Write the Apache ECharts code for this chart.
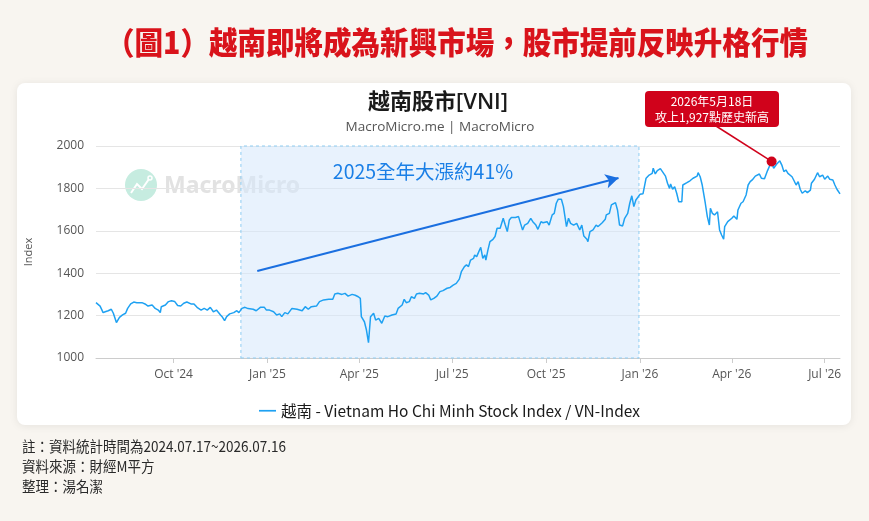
<!DOCTYPE html>
<html>
<head>
<meta charset="utf-8">
<script src="https://cdn.jsdelivr.net/npm/echarts@6/dist/echarts.min.js"></script>
<style>
html,body{margin:0;padding:0;background:#f8f5f0;}
#c{width:869px;height:521px;}
</style>
</head>
<body>
<div id="c"></div>
<script>
const dates = [
'2024-07-17','2024-07-21','2024-07-24','2024-07-26','2024-07-29','2024-08-01','2024-08-03','2024-08-06','2024-08-09','2024-08-12',
'2024-08-15','2024-08-17','2024-08-20','2024-08-23','2024-08-26','2024-08-31','2024-09-03','2024-09-06','2024-09-10','2024-09-13',
'2024-09-16','2024-09-18','2024-09-19','2024-09-23','2024-09-26','2024-09-29','2024-10-02','2024-10-05','2024-10-08','2024-10-11',
'2024-10-14','2024-10-18','2024-10-21','2024-10-24','2024-10-28','2024-10-31','2024-11-03','2024-11-06','2024-11-09','2024-11-12',
'2024-11-16','2024-11-18','2024-11-20','2024-11-22','2024-11-25','2024-11-29','2024-12-02','2024-12-04','2024-12-07','2024-12-10',
'2024-12-13','2024-12-18','2024-12-21','2024-12-25','2024-12-29','2024-12-31',
'2025-01-03','2025-01-07','2025-01-10','2025-01-13','2025-01-15','2025-01-18','2025-01-21','2025-01-25','2025-01-30','2025-02-04',
'2025-02-07','2025-02-10','2025-02-13','2025-02-18','2025-02-21','2025-02-25','2025-03-02','2025-03-06','2025-03-08','2025-03-11',
'2025-03-15','2025-03-18','2025-03-21','2025-03-25','2025-03-28','2025-03-31','2025-04-02','2025-04-03','2025-04-06','2025-04-08',
'2025-04-10','2025-04-12','2025-04-15','2025-04-17','2025-04-20','2025-04-23','2025-04-26','2025-04-29','2025-05-03','2025-05-07',
'2025-05-09','2025-05-13','2025-05-15','2025-05-17','2025-05-20','2025-05-22','2025-05-25','2025-05-27','2025-05-30','2025-06-03',
'2025-06-05','2025-06-08','2025-06-10','2025-06-13','2025-06-16','2025-06-19','2025-06-22','2025-06-26','2025-06-29','2025-07-02',
'2025-07-05','2025-07-08','2025-07-10','2025-07-13','2025-07-15','2025-07-17','2025-07-19','2025-07-22','2025-07-23','2025-07-25',
'2025-07-28','2025-07-29','2025-07-31','2025-08-02','2025-08-03','2025-08-05','2025-08-07','2025-08-10','2025-08-12','2025-08-14',
'2025-08-17','2025-08-20','2025-08-22','2025-08-24','2025-08-26','2025-08-28','2025-09-01','2025-09-04','2025-09-06','2025-09-08',
'2025-09-10','2025-09-13','2025-09-16','2025-09-18','2025-09-21','2025-09-23','2025-09-26','2025-09-28','2025-10-02','2025-10-04',
'2025-10-07','2025-10-09','2025-10-11','2025-10-13','2025-10-16','2025-10-18','2025-10-21','2025-10-23','2025-10-25','2025-10-28',
'2025-10-31','2025-11-03','2025-11-05','2025-11-07','2025-11-10','2025-11-11','2025-11-13','2025-11-16','2025-11-19','2025-11-21',
'2025-11-25','2025-11-28','2025-11-29','2025-12-02','2025-12-04','2025-12-08','2025-12-10','2025-12-12','2025-12-15','2025-12-17',
'2025-12-20','2025-12-22','2025-12-24','2025-12-26','2025-12-28',
'2026-01-01','2026-01-04','2026-01-07','2026-01-10','2026-01-13','2026-01-14','2026-01-16','2026-01-18','2026-01-21','2026-01-23',
'2026-01-26','2026-01-28','2026-01-30','2026-01-31','2026-02-02','2026-02-04','2026-02-06','2026-02-08','2026-02-11','2026-02-12',
'2026-02-16','2026-02-19','2026-02-22','2026-02-26','2026-02-27','2026-03-01','2026-03-03','2026-03-06','2026-03-08','2026-03-10',
'2026-03-11','2026-03-13','2026-03-15','2026-03-18','2026-03-20','2026-03-22','2026-03-24','2026-03-25','2026-03-28','2026-03-29',
'2026-04-01','2026-04-03','2026-04-06','2026-04-07','2026-04-10','2026-04-12','2026-04-15','2026-04-17','2026-04-19','2026-04-21',
'2026-04-24','2026-04-25','2026-04-28','2026-04-30','2026-05-03','2026-05-06','2026-05-08','2026-05-10','2026-05-12','2026-05-15',
'2026-05-18','2026-05-20','2026-05-22','2026-05-24','2026-05-26','2026-05-30','2026-06-01','2026-06-03','2026-06-05','2026-06-07',
'2026-06-09','2026-06-12','2026-06-14','2026-06-17','2026-06-18','2026-06-21','2026-06-24','2026-06-26','2026-06-29','2026-07-01',
'2026-07-04','2026-07-06','2026-07-09','2026-07-11','2026-07-13','2026-07-14','2026-07-16'
];
const vni = [
1261,1245,1214,1218,1223,1230,1211,1167,1192,1203,
1211,1234,1255,1264,1261,1261,1255,1245,1250,1234,
1226,1214,1242,1250,1266,1270,1267,1248,1245,1258,
1264,1255,1255,1239,1226,1234,1226,1239,1218,1226,
1203,1192,1176,1195,1208,1214,1223,1214,1234,1239,
1233,1230,1223,1239,1239,1226,
1226,1218,1203,1208,1195,1214,1208,1234,1230,1223,
1242,1230,1242,1245,1266,1274,1277,1277,1302,1305,
1300,1305,1292,1300,1296,1289,1281,1195,1171,1132,
1072,1195,1211,1179,1187,1164,1198,1195,1203,1208,
1234,1250,1277,1261,1266,1289,1281,1302,1305,1302,
1308,1297,1274,1281,1292,1313,1318,1329,1333,1344,
1352,1372,1407,1431,1439,1431,1462,1470,1486,1478,
1512,1522,1470,1486,1462,1509,1549,1560,1573,1612,
1612,1659,1627,1596,1651,1663,1663,1667,1635,1604,
1627,1635,1659,1643,1627,1607,1643,1638,1643,1627,
1675,1682,1730,1749,1749,1714,1620,1659,1635,1627,
1635,1604,1627,1575,1560,1549,1596,1604,1627,1620,
1638,1654,1675,1682,1722,1733,1698,1627,1623,1659,
1682,1730,1765,1714,1745,
1772,1775,1848,1863,1871,1895,1868,1884,1893,1879,
1858,1824,1800,1821,1796,1808,1777,1737,1737,1816,
1827,1836,1848,1858,1874,1855,1816,1730,1667,1627,
1706,1682,1675,1690,1604,1580,1560,1620,1643,1635,
1659,1670,1654,1698,1730,1737,1769,1816,1832,1840,
1858,1852,1868,1848,1846,1884,1906,1922,1895,1915,
1930,1910,1879,1887,1871,1855,1836,1816,1832,1796,
1777,1789,1780,1792,1824,1843,1874,1855,1863,1843,
1858,1843,1840,1816,1796,1800,1774
];
const xTickDates = ['2024-10-01','2025-01-01','2025-04-01','2025-07-01','2025-10-01','2026-01-01','2026-04-01','2026-07-01'];
const xTickLabels = ["Oct '24","Jan '25","Apr '25","Jul '25","Oct '25","Jan '26","Apr '26","Jul '26"];
const xStart = '2024-07-17', xEnd = '2026-07-16';
const yMin = 1000, yMax = 2000, yStep = 200;
const rangeBox = ['2024-12-06', '2025-12-31'];
const arrowFrom = ['2024-12-22', 1410];
const arrowTo = ['2025-12-11', 1849];
const arrowText = '2025全年大漲約41%';
const peakPoint = ['2026-05-10', 1927];
const peakText = ['2026年5月18日', '攻上1,927點歷史新高'];
const seriesName = '越南 - Vietnam Ho Chi Minh Stock Index / VN-Index';
const pageTitle = '（圖1）越南即將成為新興市場，股市提前反映升格行情';
const chartTitle = '越南股市[VNI]';
const chartSub = 'MacroMicro.me | MacroMicro';
const notes = ['註：資料統計時間為2024.07.17~2026.07.16', '資料來源：財經M平方', '整理：湯名潔'];

function ts(s){ const p = s.split('-'); return Date.UTC(+p[0], +p[1]-1, +p[2]); }
const tickTs = xTickDates.map(ts);
const FONT = '"Noto Sans CJK TC","Noto Sans",sans-serif';
const FONT_OS = '"Open Sans","Noto Sans CJK TC",sans-serif';

const chart = echarts.init(document.getElementById('c'), null, {renderer:'canvas'});
const baseGraphic = [
    {type: 'rect', z: -10, shape: {x: 17, y: 83, width: 834, height: 342, r: 8},
     style: {fill: '#ffffff', shadowBlur: 8, shadowColor: 'rgba(0,0,0,0.08)', shadowOffsetY: 1}},
    {type: 'text', z: 10, x: 457, y: 42, scaleX: 0.92, style: {text: pageTitle, x: 0, y: 0, align: 'center', verticalAlign: 'middle',
      fill: '#d9131b', fontSize: 31, fontWeight: 900, fontFamily: FONT}},
    {type: 'text', z: 10, style: {text: chartTitle, x: 438, y: 103, align: 'center', verticalAlign: 'middle',
      fill: '#1a1a1a', fontSize: 22, fontWeight: 600, fontFamily: FONT_OS}},
    {type: 'text', z: 10, style: {text: chartSub, x: 440, y: 127, align: 'center', verticalAlign: 'middle',
      fill: '#555', fontSize: 13.5, fontFamily: FONT_OS}},
    {type: 'circle', z: -5, shape: {cx: 141, cy: 185, r: 16}, style: {fill: '#c6ece0'}},
    {type: 'polyline', z: -4, shape: {points: [[131,193],[137,184],[142,189],[149,179]]}, style: {stroke: '#ffffff', lineWidth: 2, fill: null}},
    {type: 'circle', z: -4, shape: {cx: 150, cy: 178, r: 2}, style: {fill: 'none', stroke: '#ffffff', lineWidth: 1.5}},
    {type: 'text', z: -4, style: {text: 'MacroMicro', x: 164, y: 186, align: 'left', verticalAlign: 'middle',
      fill: '#e2e2e2', fontSize: 23, fontWeight: 'bold', fontFamily: '"Noto Sans",sans-serif'}},
    {type: 'text', z: 10, style: {text: arrowText, x: 423, y: 172, align: 'center', verticalAlign: 'middle',
      fill: '#1a7fe6', fontSize: 19.5, fontFamily: FONT}},
    {type: 'rect', z: 20, shape: {x: 645, y: 91, width: 134, height: 36, r: 4}, style: {fill: '#d0021b'}},
    {type: 'text', z: 21, style: {text: peakText[0], x: 712, y: 101, align: 'center', verticalAlign: 'middle',
      fill: '#fff', fontSize: 12, fontFamily: FONT}},
    {type: 'text', z: 21, style: {text: peakText[1], x: 712, y: 117, align: 'center', verticalAlign: 'middle',
      fill: '#fff', fontSize: 12, fontFamily: FONT}},
    {type: 'text', z: 10, x: 22, y: 446, scaleX: 0.9, style: {text: notes[0], x: 0, y: 0, align: 'left', verticalAlign: 'middle', fill: '#2a2a2a', fontSize: 15, fontFamily: FONT}},
    {type: 'text', z: 10, x: 22, y: 466, scaleX: 0.9, style: {text: notes[1], x: 0, y: 0, align: 'left', verticalAlign: 'middle', fill: '#2a2a2a', fontSize: 15, fontFamily: FONT}},
    {type: 'text', z: 10, x: 22, y: 486, scaleX: 0.9, style: {text: notes[2], x: 0, y: 0, align: 'left', verticalAlign: 'middle', fill: '#2a2a2a', fontSize: 15, fontFamily: FONT}}
];
const option = {
  backgroundColor: '#f8f5f0',
  animation: false,
  textStyle: {fontFamily: FONT},
  grid: {left: 96, right: 29, top: 146, bottom: 163, containLabel: false},
  legend: {
    show: true, top: 398, left: 254,
    icon: 'path://M0,0 L20,0 L20,2 L0,2 Z', itemWidth: 17, itemHeight: 2, itemGap: 8,
    textStyle: {fontSize: 15.5, color: '#1a1a1a', fontFamily: FONT},
    data: [seriesName]
  },
  xAxis: {
    type: 'value', min: ts(xStart), max: ts(xEnd),
    axisLine: {show: true, lineStyle: {color: '#cccccc'}},
    axisTick: {show: true, customValues: tickTs, length: 5, lineStyle: {color: '#cccccc'}},
    axisLabel: {
      customValues: tickTs, color: '#555', fontSize: 12, margin: 11, fontFamily: FONT_OS,
      formatter: function(v){ let best = 0, bd = Infinity; tickTs.forEach((t,k)=>{ const d=Math.abs(t-v); if(d<bd){bd=d;best=k;} }); return xTickLabels[best]; }
    },
    splitLine: {show: false}
  },
  yAxis: {
    type: 'value', min: yMin, max: yMax, interval: yStep,
    name: 'Index', nameLocation: 'middle', nameGap: 62, nameRotate: 90,
    nameTextStyle: {color: '#555', fontSize: 11, fontFamily: FONT_OS},
    axisLine: {show: false}, axisTick: {show: false},
    axisLabel: {color: '#555', fontSize: 12, margin: 12, fontFamily: FONT_OS, formatter: function(v){ return String(v); }},
    splitLine: {lineStyle: {color: '#e5e5e5', width: 1}}
  },
  graphic: baseGraphic,
  series: [{
    name: seriesName, type: 'line', showSymbol: false, symbol: 'none',
    data: dates.map((d,i)=>[ts(d), vni[i]]),
    lineStyle: {color: '#1ea1f2', width: 1.5}, itemStyle: {color: '#1ea1f2'},
    markArea: {
      silent: true,
      itemStyle: {color: 'rgba(214,232,251,0.55)', borderColor: '#8fcdf2', borderWidth: 1, borderType: [3,3]},
      data: [[{xAxis: ts(rangeBox[0]), yAxis: yMin}, {xAxis: ts(rangeBox[1]), yAxis: yMax}]]
    },
    markLine: {
      silent: true, symbol: ['none','arrow'], symbolSize: [11, 13],
      lineStyle: {color: '#1a6fe0', width: 2, type: 'solid'}, label: {show: false},
      data: [[{coord: [ts(arrowFrom[0]), arrowFrom[1]]}, {coord: [ts(arrowTo[0]), arrowTo[1]]}]]
    },
    markPoint: {
      silent: true, symbol: 'circle', symbolSize: 10, itemStyle: {color: '#d0021b'}, label: {show: false},
      data: [{coord: [ts(peakPoint[0]), peakPoint[1]]}]
    }
  }]
};
chart.setOption(option);
const pp = chart.convertToPixel({gridIndex: 0}, [ts(peakPoint[0]), peakPoint[1]]);
chart.setOption({graphic: baseGraphic.concat([
  {type: 'line', z: 19, shape: {x1: 716, y1: 126, x2: pp[0], y2: pp[1]}, style: {stroke: '#d0021b', lineWidth: 1.5}}
])});
</script>
</body>
</html>
